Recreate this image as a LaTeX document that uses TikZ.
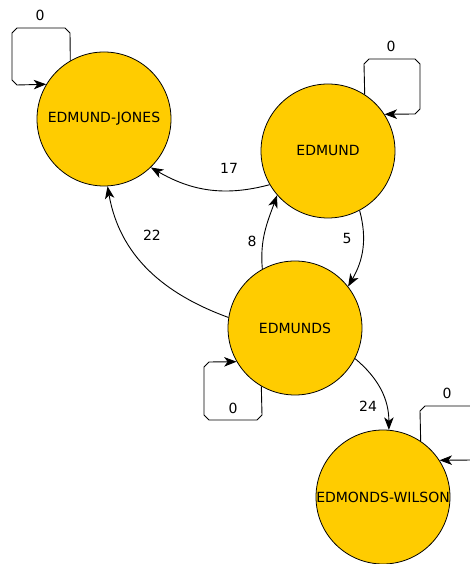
\documentclass[tikz,border=0pt]{standalone}
\usepackage{fontspec}
\setmainfont{DejaVu Sans}
\usetikzlibrary{arrows.meta}
\definecolor{knotengelb}{RGB}{255,204,0}

\begin{document}
\begin{tikzpicture}[x=1pt,y=1pt,font=\fontsize{14}{16}\selectfont,
	zustand/.style={circle,draw,line width=0.8pt,fill=knotengelb,minimum size=134pt,inner sep=0pt},
	kante/.style={-{Stealth[length=12.5pt,width=9.5pt,inset=3.5pt]},line width=0.9pt}]

	\useasboundingbox (0,0) rectangle (470,564);
	% Zustaende
	\node[zustand] (jones) at (104,445) {EDMUND-JONES};
	\node[zustand] (edmund) at (328,413) {EDMUND};
	\node[zustand] (edmunds) at (295,236) {EDMUNDS};
	\node[zustand] (wilson) at (383,67) {EDMONDS-WILSON};
	% Uebergaenge
	\draw[kante] (edmund.210) to[out=195,in=-30] (jones.-46);
	\draw[kante] (edmunds.171) to[out=160,in=-80] (jones.-87);
	\draw[kante] (edmunds.119) to[out=95,in=250] (edmund.221);
	\draw[kante] (edmund.298) to[out=-75,in=60] (edmunds.38);
	\draw[kante] (edmunds.-27) to[out=-40,in=90] (wilson.85);
	% Schleifen
	\draw[kante] (jones.120.5) -- (70,531) -- (65,536) -- (17,536) -- (12,531) -- (12,484) -- (17,479) -- (jones.149.5);
	\draw[kante] (edmund.57.5) -- (364,500) -- (369,505) -- (415,505) -- (420,500) -- (420,455) -- (415,450) -- (edmund.33.5);
	\draw[kante] (edmunds.240.5) -- (262,149) -- (257,144) -- (209,144) -- (204,149) -- (204,197) -- (209,202) -- (edmunds.210.5);
	\draw[kante] (wilson.56.5) -- (420,153) -- (425,158) -- (473,158) -- (478,153) -- (478,109) -- (473,104) -- (wilson.33.5);
	% Gewichte
	\node (g17) at (229,396) {17};
	\node (g22) at (152,329) {22};
	\node (g8) at (252,323) {8};
	\node (g5) at (347,325) {5};
	\node (g24) at (368,158) {24};
	\node (s1) at (40,549) {0};
	\node (s2) at (391,518) {0};
	\node (s3) at (233,156) {0};
	\node (s4) at (447,171) {0};
\end{tikzpicture}
\end{document}
